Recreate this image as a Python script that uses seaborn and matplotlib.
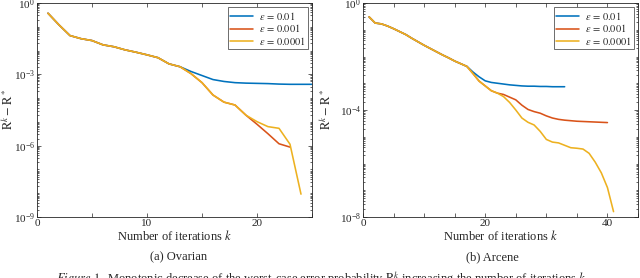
import numpy as np
import pandas as pd
import matplotlib
matplotlib.use("Agg")
import matplotlib.pyplot as plt
import matplotlib.ticker as mticker
import seaborn as sns

# ---------------- data (log10 of R^k - R^*) ----------------
eps_labels = [r"$\epsilon\,=\,0.01$", r"$\epsilon\,=\,0.001$", r"$\epsilon\,=\,0.0001$"]
colors = ["#0072BD", "#D95319", "#EDB120"]

# Ovarian (left)
ov_shared = [-0.43, -0.92, -1.37, -1.50, -1.58, -1.76, -1.84, -1.97, -2.07, -2.18, -2.30, -2.56, -2.68]  # k=1..13
ov_blue_tail = [-2.88, -3.05, -3.22, -3.30, -3.35, -3.37, -3.38, -3.39, -3.41, -3.42, -3.42, -3.42]  # k=14..25
ov_orange_mid = [-2.97, -3.35, -3.87, -4.17, -4.29, -4.72]  # k=14..19
ov_red_tail = [-5.10, -5.50, -5.92, -6.06]  # k=20..23
ov_yellow_tail = [-4.99, -5.20, -5.27, -5.94, -8.04]  # k=20..24

# Arcene (right)
ar_shared = [-0.52, -0.75, -0.78, -0.86, -0.96, -1.07, -1.18, -1.32, -1.45, -1.58,
             -1.70, -1.82, -1.94, -2.05, -2.17, -2.27, -2.37]  # k=1..17
ar_blue_tail = [-2.58, -2.76, -2.91, -2.97, -3.00, -3.03, -3.06, -3.08, -3.10, -3.11,
                -3.11, -3.12, -3.12, -3.13, -3.13, -3.13]  # k=18..33
ar_orange_mid = [-2.64, -2.92, -3.10, -3.28, -3.37]  # k=18..22
ar_red_tail = [-3.42, -3.52, -3.62, -3.82, -3.98, -4.06, -4.12, -4.22, -4.30, -4.35,
               -4.38, -4.40, -4.42, -4.43, -4.44, -4.45, -4.46, -4.47]  # k=23..40
ar_yellow_tail = [-3.50, -3.72, -4.00, -4.30, -4.46, -4.56, -4.80, -5.10, -5.20, -5.23,
                  -5.32, -5.41, -5.43, -5.46, -5.62, -5.95, -6.35, -6.90, -7.80]  # k=23..41


def build(series_list):
    rows = []
    for lab, vals in zip(eps_labels, series_list):
        for i, v in enumerate(vals):
            rows.append({"k": i + 1, "val": 10.0 ** v, "eps": lab})
    return pd.DataFrame(rows)


df_ov = build([ov_shared + ov_blue_tail,
               ov_shared + ov_orange_mid + ov_red_tail,
               ov_shared + ov_orange_mid + ov_yellow_tail])
df_ar = build([ar_shared + ar_blue_tail,
               ar_shared + ar_orange_mid + ar_red_tail,
               ar_shared + ar_orange_mid + ar_yellow_tail])

# ---------------- style ----------------
sns.set_style("ticks")
plt.rcParams["font.family"] = ["Liberation Serif", "DejaVu Serif"]
plt.rcParams["mathtext.fontset"] = "stix"
plt.rcParams["axes.linewidth"] = 0.6

fig = plt.figure(figsize=(6.4, 2.78), dpi=100)
ax1 = fig.add_axes([37 / 640, 1 - 217 / 278, 275 / 640, 214 / 278])
ax2 = fig.add_axes([363 / 640, 1 - 217 / 278, 275 / 640, 214 / 278])

pal = dict(zip(eps_labels, colors))
edge = "#262626"


def style(ax, df, xmax, xmaj, ymin_exp, ystep):
    sns.lineplot(data=df, x="k", y="val", hue="eps", hue_order=eps_labels,
                 palette=pal, linewidth=1.15, ax=ax, legend=True)
    ax.set_yscale("log")
    ax.set_xlim(0, xmax)
    ax.set_ylim(10.0 ** ymin_exp, 1.0)
    ax.xaxis.set_major_locator(mticker.MultipleLocator(xmaj))
    ax.xaxis.set_minor_locator(mticker.MultipleLocator(5))
    ax.yaxis.set_major_locator(mticker.LogLocator(base=10.0 ** ystep, numticks=20))
    ax.yaxis.set_minor_locator(mticker.LogLocator(base=10.0, subs=np.arange(1, 10), numticks=40))
    ax.yaxis.set_major_formatter(mticker.LogFormatterSciNotation(base=10.0))
    ax.yaxis.set_minor_formatter(mticker.NullFormatter())
    ax.tick_params(which="both", direction="in", top=True, right=True,
                   color=edge, width=0.5, labelsize=8, pad=1.5)
    ax.tick_params(which="major", length=3)
    ax.tick_params(axis="x", which="minor", length=3)
    ax.tick_params(axis="y", which="minor", length=1.5)
    for s in ax.spines.values():
        s.set_color(edge)
        s.set_linewidth(0.6)
    ax.set_xlabel(r"Number of iterations $k$", fontsize=9, labelpad=1)
    h, l = ax.get_legend_handles_labels()
    leg = ax.legend(h, l, loc="upper right", fontsize=7.5, frameon=True, fancybox=False,
                    framealpha=1, edgecolor="#555555", handlelength=2.2,
                    handletextpad=0.5, borderpad=0.25, labelspacing=0.05,
                    borderaxespad=0.4)
    leg.get_frame().set_linewidth(0.6)


style(ax1, df_ov, 25, 10, -9, 3)
style(ax2, df_ar, 45, 20, -8, 4)

ax1.set_ylabel(r"$\mathrm{R}^k - \mathrm{R}^*$", fontsize=9)
ax2.set_ylabel(r"$\mathrm{R}^k - \mathrm{R}^*$", fontsize=9)
ax1.yaxis.set_label_coords((16 - 37) / 275, 0.5)
ax2.yaxis.set_label_coords((334 - 363) / 275, 0.5)

fig.text(179 / 640, 1 - 257 / 278, "(a) Ovarian", ha="center", va="center", fontsize=9)
fig.text(492 / 640, 1 - 257 / 278, "(b) Arcene", ha="center", va="center", fontsize=9)
fig.text(322 / 640, 1 - 269 / 278,
         r"$\mathit{Figure\ 1.}$ Monotonic decrease of the worst-case error probability "
         r"$\mathrm{R}^k$ increasing the number of iterations $k$.",
         ha="center", va="top", fontsize=9)

fig.savefig("out.png", dpi=100)
